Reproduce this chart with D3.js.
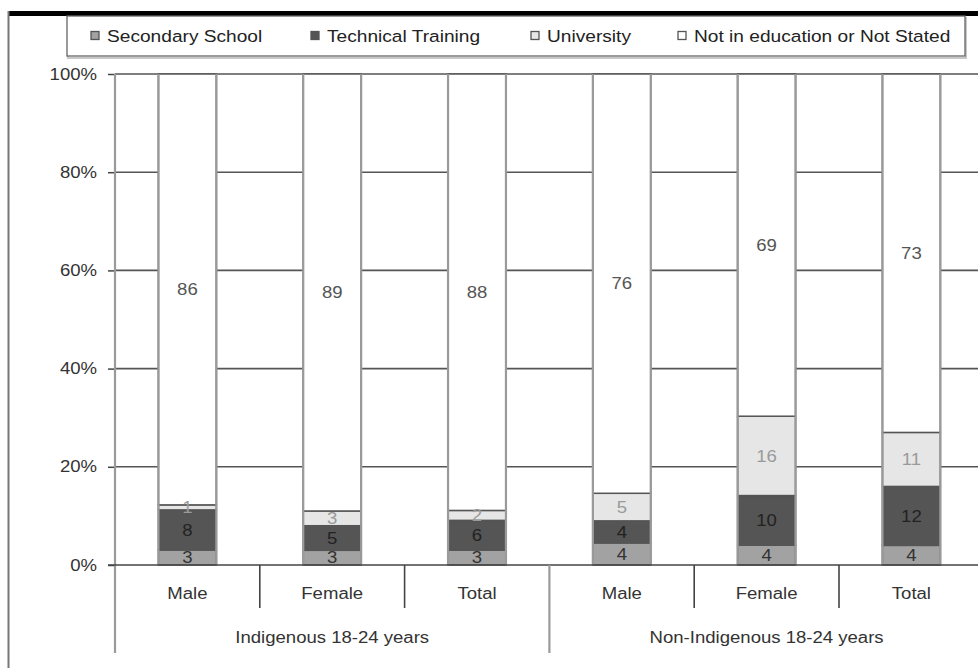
<!DOCTYPE html>
<html>
<head>
<meta charset="utf-8">
<script src="https://cdn.jsdelivr.net/npm/d3@7"></script>
<style>
  html, body { margin: 0; padding: 0; background: #fff; }
  svg { display: block; font-family: "Liberation Sans", Arial, sans-serif; }
</style>
</head>
<body>
<svg id="chart" width="978" height="668"></svg>
<script>
// Education participation of 18-24 year olds, by sex (values in per cent)
const groups = ["Indigenous 18-24 years", "Non-Indigenous 18-24 years"];
const categories = ["Male", "Female", "Total", "Male", "Female", "Total"];
const seriesNames = ["Secondary School", "Technical Training", "University", "Not in education or Not Stated"];
const secondary = [3, 3, 3, 4, 4, 4];
const technical = [8, 5, 6, 4, 10, 12];
const university = [1, 3, 2, 5, 16, 11];
const notInEducation = [86, 89, 88, 76, 69, 73];
const yTicks = [0, 0.2, 0.4, 0.6, 0.8, 1];

const seriesFill = ["#a2a2a2", "#555555", "#e6e6e6", "#ffffff"];
const labelFill = ["#333333", "#222222", "#9a9a9a", "#555555"];

const keys = ["secondary", "technical", "university", "notInEducation"];
const rows = categories.map((c, i) => ({
  idx: i,
  category: c,
  secondary: secondary[i],
  technical: technical[i],
  university: university[i],
  notInEducation: notInEducation[i]
}));

// each column is drawn as shares of its own total
const stacked = d3.stack().keys(keys).offset(d3.stackOffsetExpand)(rows);

const svg = d3.select("#chart");
const W = 978, H = 668;
const plotLeft = 115, plotBottom = 565, plotTop = 74;
const step = 144.8;
const textWiden = 1.16;   // the lettering is set slightly wide

// place a text element at (x, y) with its glyphs widened horizontally
function placeWide(sel, fx, fy) {
  sel.attr("x", 0).attr("y", 0)
    .attr("transform", (d, i) => `translate(${fx(d, i)},${fy(d, i)}) scale(${textWiden},1)`);
}

const x = d3.scaleBand()
  .domain(d3.range(categories.length))
  .range([plotLeft, plotLeft + step * categories.length])
  .paddingInner(0.6)
  .paddingOuter(0.3);

const y = d3.scaleLinear().domain([0, 1]).range([plotBottom, plotTop]);

// outer frame: heavy top rule and thin left rule
svg.append("rect").attr("x", 8).attr("y", 11).attr("width", W - 8).attr("height", 5).attr("fill", "#000");
svg.append("line").attr("x1", 8.5).attr("x2", 8.5).attr("y1", 11).attr("y2", H)
  .attr("stroke", "#777").attr("stroke-width", 2);

// legend
const lg = svg.append("g");
lg.append("rect").attr("x", 68).attr("y", 18).attr("width", 898).attr("height", 40)
  .attr("fill", "none").attr("stroke", "#c8c8c8").attr("stroke-width", 2);
lg.append("rect").attr("x", 67).attr("y", 16).attr("width", 898).attr("height", 40)
  .attr("fill", "#fff").attr("stroke", "#666").attr("stroke-width", 1.3);
const legendX = [91, 311, 531, 678];
seriesNames.forEach((name, i) => {
  const g = lg.append("g").attr("transform", `translate(${legendX[i]},36)`);
  g.append("rect").attr("x", 0).attr("y", -4.5).attr("width", 8).attr("height", 8)
    .attr("fill", seriesFill[i]).attr("stroke", "#555").attr("stroke-width", 1.3);
  g.append("text").datum(name).attr("dy", "0.35em")
    .attr("font-size", 16.5).attr("fill", "#222").text(name)
    .call(placeWide, () => 16, () => 0);
});

// y axis
const yAxis = d3.axisLeft(y).tickValues(yTicks).tickFormat(d3.format(".0%")).tickSize(7).tickPadding(10);
const ya = svg.append("g").attr("transform", `translate(${plotLeft},0)`).call(yAxis);
ya.select(".domain").remove();
ya.selectAll(".tick line").attr("stroke", "#444").attr("stroke-width", 1.5);
ya.selectAll(".tick text").attr("font-size", 16).attr("fill", "#333")
  .attr("font-family", "Liberation Sans, Arial, sans-serif")
  .call(placeWide, () => -18, () => 0);

// horizontal gridlines behind the columns
svg.append("g").selectAll("line").data(yTicks.filter(t => t > 0)).join("line")
  .attr("x1", plotLeft).attr("x2", W).attr("y1", d => y(d)).attr("y2", d => y(d))
  .attr("stroke", "#555").attr("stroke-width", 1.6);

// vertical axis line, running down into the category area
svg.append("line").attr("x1", plotLeft).attr("x2", plotLeft).attr("y1", plotTop).attr("y2", 653)
  .attr("stroke", "#9a9a9a").attr("stroke-width", 2.2);

// stacked columns
const layers = svg.append("g").selectAll("g").data(stacked).join("g")
  .attr("fill", (d, i) => seriesFill[i]);
layers.selectAll("rect").data(d => d).join("rect")
  .attr("x", d => x(d.data.idx))
  .attr("width", x.bandwidth())
  .attr("y", d => y(d[1]))
  .attr("height", d => y(d[0]) - y(d[1]))
  .attr("stroke", "#555").attr("stroke-width", 1.5);

// soft grey edges down both sides of each column
svg.append("g").selectAll("g").data(rows).join("g").each(function (d) {
  const g = d3.select(this);
  [x(d.idx), x(d.idx) + x.bandwidth()].forEach(xx => {
    g.append("line").attr("x1", xx).attr("x2", xx).attr("y1", plotTop).attr("y2", plotBottom)
      .attr("stroke", "#9a9a9a").attr("stroke-width", 2.2);
  });
});

// segment value labels
svg.append("g").selectAll("g").data(stacked).join("g")
  .attr("fill", (d, i) => labelFill[i])
  .selectAll("text").data(d => d.map(p => ({ p, key: d.key }))).join("text")
  .attr("dy", "0.36em")
  .attr("text-anchor", "middle")
  .attr("font-size", 16)
  .text(d => d.p.data[d.key])
  .call(placeWide,
    d => x(d.p.data.idx) + x.bandwidth() / 2,
    d => (y(d.p[0]) + y(d.p[1])) / 2);

// category axis
svg.append("line").attr("x1", plotLeft - 7).attr("x2", W).attr("y1", plotBottom).attr("y2", plotBottom)
  .attr("stroke", "#444").attr("stroke-width", 1.6);

const perGroup = categories.length / groups.length;
d3.range(1, categories.length).forEach(i => {
  const bx = plotLeft + x.step() * i;
  const isGroup = i % perGroup === 0;
  svg.append("line").attr("x1", bx).attr("x2", bx).attr("y1", plotBottom)
    .attr("y2", isGroup ? 653 : 608)
    .attr("stroke", isGroup ? "#9a9a9a" : "#444")
    .attr("stroke-width", isGroup ? 2.2 : 1.6);
});

svg.append("g").selectAll("text").data(rows).join("text")
  .attr("dy", "0.35em")
  .attr("text-anchor", "middle").attr("font-size", 16).attr("fill", "#333")
  .text(d => d.category)
  .call(placeWide, d => x(d.idx) + x.bandwidth() / 2, () => 593);

svg.append("g").selectAll("text").data(groups).join("text")
  .attr("dy", "0.35em")
  .attr("text-anchor", "middle").attr("font-size", 16).attr("fill", "#333")
  .text(d => d)
  .call(placeWide, (d, i) => plotLeft + x.step() * perGroup * (i + 0.5), () => 637);
</script>
</body>
</html>
